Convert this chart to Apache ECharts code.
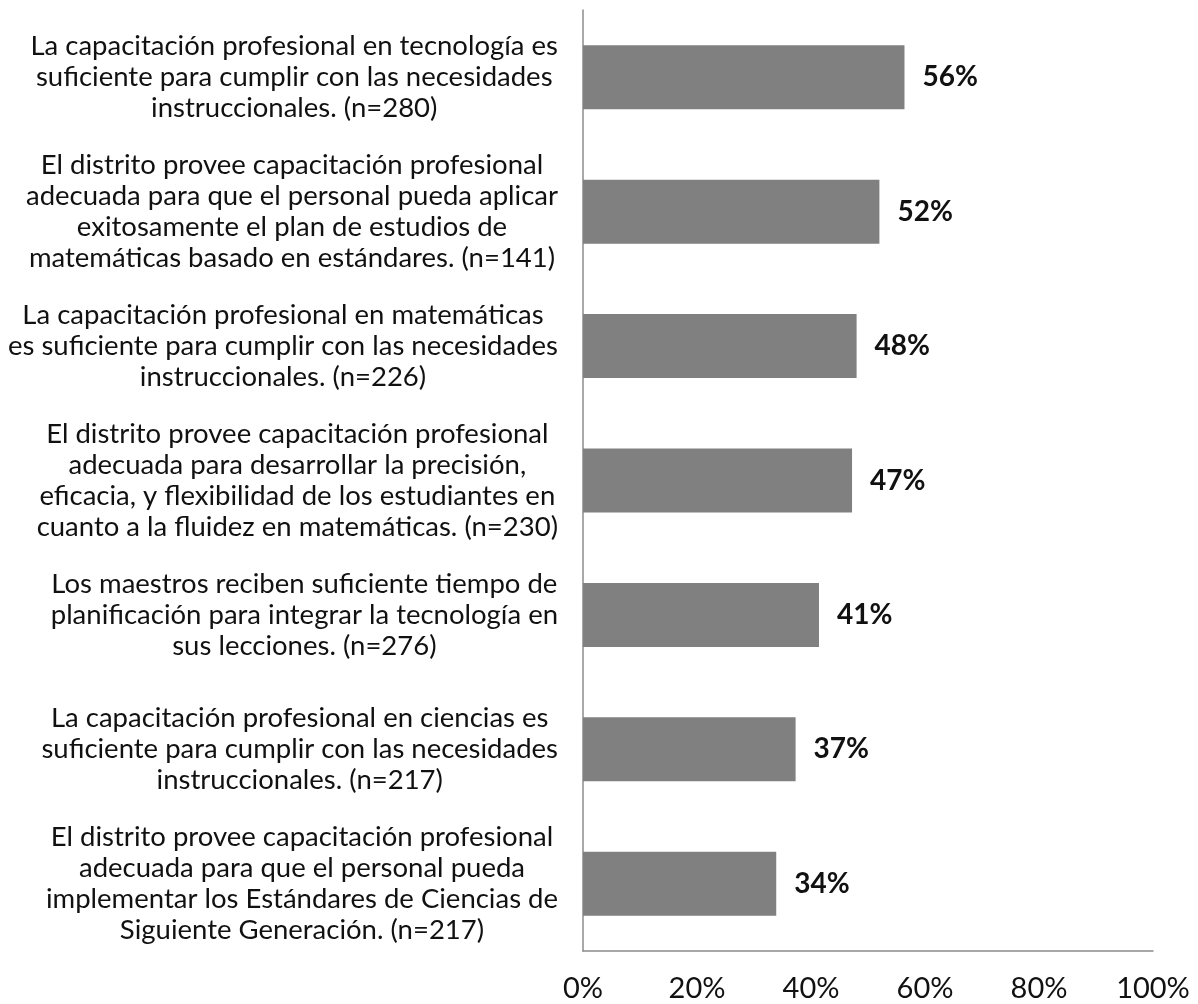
<!DOCTYPE html>
<html>
<head>
<meta charset="utf-8">
<script src="https://cdn.jsdelivr.net/npm/echarts@6/dist/echarts.min.js"></script>
<style>
  html, body { margin: 0; padding: 0; background: #fff; }
  #main { width: 1198px; height: 1004px; }
</style>
</head>
<body>
<div id="main"></div>
<script>
var categories = [
  'La capacitación profesional en tecnología es\nsuficiente para cumplir con las necesidades\ninstruccionales. (n=280)',
  'El distrito provee capacitación profesional\nadecuada para que el personal pueda aplicar\nexitosamente el plan de estudios de\nmatemáticas basado en estándares. (n=141)',
  'La capacitación profesional en matemáticas\nes suficiente para cumplir con las necesidades\ninstruccionales. (n=226)',
  'El distrito provee capacitación profesional\nadecuada para desarrollar la precisión,\neficacia, y flexibilidad de los estudiantes en\ncuanto a la fluidez en matemáticas. (n=230)',
  'Los maestros reciben suficiente tiempo de\nplanificación para integrar la tecnología en\nsus lecciones. (n=276)',
  'La capacitación profesional en ciencias es\nsuficiente para cumplir con las necesidades\ninstruccionales. (n=217)',
  'El distrito provee capacitación profesional\nadecuada para que el personal pueda\nimplementar los Estándares de Ciencias de\nSiguiente Generación. (n=217)'
];
var values = [0.564, 0.52, 0.48, 0.472, 0.414, 0.373, 0.339];
var tickLabels = ['0%', '20%', '40%', '60%', '80%', '100%'];

var chart = echarts.init(document.getElementById('main'));

var option = {
  animation: false,
  textStyle: { fontFamily: 'Lato' },
  grid: { left: 583, right: 45, top: 10, bottom: 53, containLabel: false },
  xAxis: {
    type: 'value',
    min: 0,
    max: 1,
    interval: 0.2,
    axisLine: { show: true, lineStyle: { color: '#8c8c8c', width: 1.5 } },
    axisTick: { show: false },
    splitLine: { show: false },
    axisLabel: {
      margin: 23,
      fontSize: 29,
      color: '#111',
      fontFamily: 'Lato',
      formatter: function (v) { return tickLabels[Math.round(v / 0.2)]; }
    }
  },
  yAxis: {
    type: 'category',
    inverse: true,
    data: categories,
    axisLine: { show: true, lineStyle: { color: '#8c8c8c', width: 1.5 } },
    axisTick: { show: false },
    axisLabel: {
      margin: 25,
      align: 'right',
      formatter: function (v) {
        return v.split('\n').map(function (l) { return '{a|' + l + '}'; }).join('\n');
      },
      rich: {
        a: { align: 'center', fontSize: 27.5, lineHeight: 31, color: '#111', fontFamily: 'Lato' }
      }
    }
  },
  series: [{
    type: 'bar',
    data: values,
    barWidth: 64,
    itemStyle: { color: '#808080' },
    label: {
      show: true,
      position: 'right',
      distance: 18,
      fontSize: 28,
      fontWeight: 'bold',
      color: '#111',
      fontFamily: 'Lato',
      formatter: function (p) { return Math.round(p.value * 100) + '%'; }
    }
  }]
};

chart.setOption(option);
</script>
</body>
</html>
